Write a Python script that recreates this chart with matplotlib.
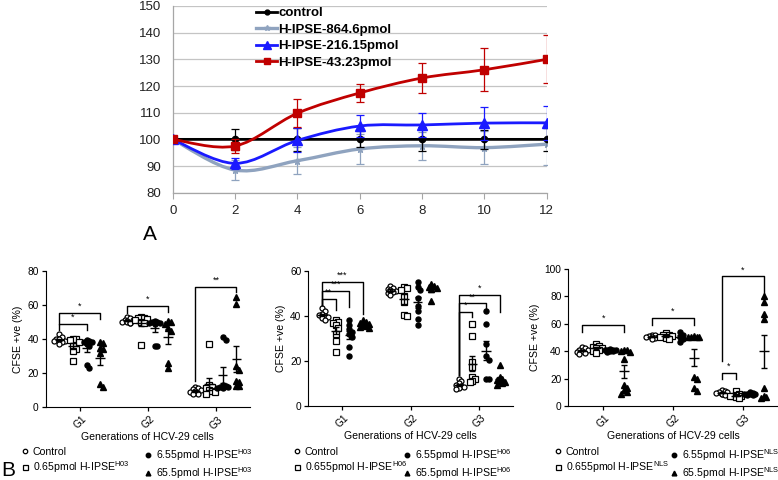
import numpy as np
import matplotlib
matplotlib.use("Agg")
import matplotlib.pyplot as plt
from matplotlib.path import Path
from matplotlib.patches import PathPatch
from matplotlib.lines import Line2D

plt.rcParams['font.family'] = ['Liberation Sans', 'DejaVu Sans']
plt.rcParams['mathtext.default'] = 'regular'

# ---- panel A: relative proliferation over time ----
days = [0, 2, 4, 6, 8, 10, 12]
ctrl = [100, 100, 100, 100, 100, 100, 100]
ctrl_err = [0, 4, 4.2, 3, 4.5, 3.5, 4.2]
ipse_864 = [100, 88.5, 92, 96.4, 97.6, 96.9, 98.2]
ipse_864_err = [0, 3.8, 5, 5.8, 5.2, 6.2, 7.7]
ipse_216 = [100, 91, 99.6, 105, 105.4, 106.1, 106.2]
ipse_216_err = [0, 2, 4.5, 4, 4.6, 6.2, 6.3]
ipse_43 = [100, 97.5, 109.8, 117.4, 123, 126.1, 130]
ipse_43_err = [0, 2.5, 5.2, 3.5, 5.5, 8, 9]

# ---- panel B: CFSE +ve (%) per generation (G1, G2, G3) ----
groups = ['G1', 'G2', 'G3']

h03_control = [[43, 41, 40, 40, 39, 39, 38, 37],
               [53, 52, 51, 51, 50.5, 50, 50, 49.5, 49.5],
               [12, 11, 10.5, 10, 9.5, 9, 8, 7.5]]
h03_low = [[40, 40, 39.5, 38, 36, 34, 33, 27],
           [53, 52.5, 52, 51.5, 51, 50, 49.5, 36.5],
           [13, 12, 11, 10, 9.5, 9, 8, 37]]
h03_mid = [[39.5, 39, 38.5, 38, 37, 36, 25, 23],
           [50.5, 50, 50, 49.5, 49.5, 49, 36, 36],
           [41, 39.5, 13, 12.5, 12, 12, 11.5, 11]]
h03_high = [[38.5, 37.5, 35, 34, 32, 12, 13.5],
            [50.5, 50, 49, 46.5, 44.5, 26, 23],
            [64.5, 60.5, 24, 22, 15.5, 15, 12.5, 12.5]]

h06_control = [[43.5, 42, 41, 40.5, 40, 39.5, 39, 38],
               [53.5, 52.5, 52, 51.5, 51, 50.5, 50, 49.5],
               [12, 11, 10, 9.5, 9, 8.5, 8, 7.5]]
h06_low = [[38, 37.5, 37, 36, 34.5, 32, 29, 24],
           [53, 52.5, 51.5, 49, 46, 40.5, 40],
           [36.5, 31, 19.5, 17.5, 13, 12, 11, 10.5]]
h06_mid = [[38, 36, 34, 33, 32, 30.5, 26, 22],
           [55, 53, 51.5, 48, 44.5, 42, 38.5, 36],
           [42, 36.5, 27.5, 22, 20.5, 12, 12]]
h06_high = [[38, 37.5, 37, 36.5, 36, 35.5, 35, 34.5],
            [54, 53.5, 53, 52.5, 52, 46.5],
            [18, 13, 12, 11.5, 11, 10.5, 10, 9.5]]

nls_control = [[43, 42, 41, 40.5, 40, 39.5, 39, 38],
               [52, 51.5, 51, 50.5, 50, 50, 49.5, 49],
               [12, 11, 10.5, 10, 9.5, 9, 8.5, 8]]
nls_low = [[45, 44, 43, 42.5, 42, 41, 40, 39],
           [53, 52, 51.5, 51, 50.5, 50, 49.5, 48.5],
           [11, 8.5, 8, 7.5, 7, 7, 6.5, 6]]
nls_mid = [[41.5, 41, 41, 40.5, 40.5, 40, 40, 39.5],
           [54, 52, 50.5, 49, 47],
           [10, 9.5, 9, 9, 8.5, 8.5, 8, 8]]
nls_high = [[41, 40.5, 40, 39.5, 34.5, 15, 13, 11.5, 10, 9],
            [51, 50.5, 50.5, 50, 50, 21, 19.5, 13, 11],
            [80, 75.5, 67, 63.5, 13, 7.5, 6.5, 6]]

# brackets: (group, treatment a, treatment b, bar y, left leg end, right leg end, label)
h03_sig = [(0, 0, 2, 49, 45.5, 45, '*'), (0, 0, 3, 55.3, 49, 51.5, '*'),
           (1, 0, 3, 59.6, 55.5, 56, '*'), (2, 0, 3, 70.5, 15.5, 67.5, '**')]
h06_sig = [(0, 0, 1, 47.4, 45, 42.5, '**'), (0, 0, 2, 51.3, 45, 44, '***'),
           (0, 0, 3, 55.1, 45, 41, '***'),
           (2, 0, 1, 41.8, 13.6, 39.6, '*'), (2, 0, 2, 45.6, 13.6, 43.3, '**'),
           (2, 0, 3, 49.3, 13.6, 41.8, '*')]
nls_sig = [(0, 0, 3, 59.2, 54, 54, '*'), (1, 0, 3, 64, 59, 59, '*'),
           (2, 0, 3, 94.4, 33, 82, '*'), (2, 0, 1, 24.3, 20, 20, '*')]


def smooth_path(x, y):
    # excel-like smoothed line: cubic bezier through the points
    p = np.column_stack([x, y]).astype(float)
    n = len(p)
    verts = [p[0]]
    codes = [Path.MOVETO]
    for i in range(n - 1):
        p0 = p[i - 1] if i > 0 else p[i]
        p3 = p[i + 2] if i + 2 < n else p[i + 1]
        verts += [p[i] + (p[i + 1] - p0) / 6, p[i + 1] - (p3 - p[i]) / 6, p[i + 1]]
        codes += [Path.CURVE4] * 3
    return Path(verts, codes)


def swarm(vals, ypx, xpx, dot=3.5, step=2.8):
    # spread overlapping points sideways, few columns only
    vals = np.asarray(vals, float)
    offs = np.zeros(len(vals))
    placed = []
    for i in np.argsort(vals)[::-1]:
        best, best_n = 0, None
        for c in [0, 1, -1, 2, -2]:
            hits = sum(1 for pv, pc in placed
                       if pc == c and abs(vals[i] - pv) * ypx < dot)
            if best_n is None or hits < best_n:
                best, best_n = c, hits
            if hits == 0:
                break
        placed.append((vals[i], best))
        offs[i] = best * step / xpx
    return offs


fig = plt.figure(figsize=(7.78, 4.8), dpi=100)

# ---------------- A ----------------
ax = fig.add_axes([0.222, 0.5985, 0.4807, 0.389])
series = [
    (ipse_864, ipse_864_err, '#8FA3BF', '*', 5, 2.4, 'H-IPSE-864.6pmol', 2),
    (ctrl, ctrl_err, 'black', 'o', 4.5, 2.0, 'control', 3),
    (ipse_216, ipse_216_err, '#1a1aff', '^', 6.5, 2.0, 'H-IPSE-216.15pmol', 4),
    (ipse_43, ipse_43_err, '#c00000', 's', 6, 2.0, 'H-IPSE-43.23pmol', 5),
]
handles = {}
for vals, err, col, mk, ms, lw, lab, z in series:
    ax.errorbar(days, vals, yerr=err, fmt='none', ecolor=col, elinewidth=0.9,
                capsize=3, capthick=0.9, zorder=z)
    ax.add_patch(PathPatch(smooth_path(days, vals), fill=False, edgecolor=col,
                           lw=lw, zorder=z + 0.1))
    ax.plot(days, vals, ls='none', marker=mk, ms=ms, color=col, zorder=z + 0.2)
    handles[lab] = Line2D([], [], color=col, lw=lw, marker=mk, ms=ms - 1)

order = ['control', 'H-IPSE-864.6pmol', 'H-IPSE-216.15pmol', 'H-IPSE-43.23pmol']
ax.legend([handles[k] for k in order], order, loc='upper left',
          bbox_to_anchor=(0.205, 1.03), frameon=False,
          prop={'weight': 'bold', 'size': 9.5}, handlelength=1.6,
          handletextpad=0.1, labelspacing=0.33, borderpad=0)

ax.set_xlim(0, 12)
ax.set_ylim(80, 150)
ax.set_xticks(range(0, 13, 2))
ax.set_yticks(range(80, 151, 10))
ax.yaxis.grid(True, color='#c4c4c4', lw=0.9)
ax.set_axisbelow(True)
for s in ['top', 'right']:
    ax.spines[s].set_visible(False)
for s in ['left', 'bottom']:
    ax.spines[s].set_color('#a6a6a6')
    ax.spines[s].set_linewidth(0.9)
ax.tick_params(axis='y', length=0, pad=8, labelsize=9.5, labelcolor='#222222')
ax.tick_params(axis='x', length=4, color='#a6a6a6', pad=5, labelsize=9.5,
               labelcolor='#222222')

fig.text(0.184, 0.5, 'A', fontsize=15)
fig.text(0.002, 0.008, 'B', fontsize=15)

# ---------------- B ----------------
offsets = [-0.3, -0.1, 0.1, 0.3]
styles = [dict(marker='o', mfc='white', mec='black', ms=3.6, mew=0.9),
          dict(marker='s', mfc='white', mec='black', ms=4.3, mew=0.9),
          dict(marker='o', mfc='black', mec='black', ms=3.6),
          dict(marker='^', mfc='black', mec='black', ms=4.0)]
leg_styles = [dict(marker='o', mfc='white', mec='black', ms=3.2, mew=0.9),
              dict(marker='s', mfc='white', mec='black', ms=3.6, mew=0.9),
              dict(marker='o', mfc='black', mec='black', ms=3.2),
              dict(marker='^', mfc='black', mec='black', ms=3.4)]


def draw_panel(rect, treatments, ymax, sig):
    bx = fig.add_axes(rect)
    xpx = rect[2] * 778 / 3.0
    ypx = rect[3] * 480 / ymax
    for t, data in enumerate(treatments):
        for g, vals in enumerate(data):
            xc = g + 1 + offsets[t]
            xs = xc + swarm(vals, ypx, xpx)
            bx.plot(xs, vals, ls='none', zorder=2, **styles[t])
            m = np.mean(vals)
            se = np.std(vals, ddof=1) / np.sqrt(len(vals))
            bx.hlines(m, xc - 0.07, xc + 0.07, color='black', lw=1, zorder=3)
            bx.errorbar(xc, m, yerr=se, fmt='none', ecolor='black', elinewidth=1,
                        capsize=2.5, capthick=1, zorder=3)
    for g, a, b, y, l1, l2, lab in sig:
        x1 = g + 1 + offsets[a]
        x2 = g + 1 + offsets[b]
        bx.plot([x1, x1, x2, x2], [l1, y, y, l2], color='black', lw=1, zorder=4)
        bx.annotate(lab, ((x1 + x2) / 2, y), xytext=(0, 1.5),
                    textcoords='offset points', ha='center', va='bottom',
                    fontsize=6.5)
    bx.set_xlim(0.5, 3.5)
    bx.set_ylim(0, ymax)
    bx.set_xticks([1, 2, 3])
    bx.set_xticklabels(groups, rotation=45)
    bx.set_yticks(range(0, ymax + 1, 20))
    for s in ['top', 'right']:
        bx.spines[s].set_visible(False)
    bx.tick_params(length=3, width=0.9, labelsize=7.3, pad=2)
    bx.set_ylabel('CFSE +ve (%)', fontsize=7.6, labelpad=3)
    bx.set_xlabel('Generations of HCV-29 cells', fontsize=7.6, labelpad=1)
    return bx


def add_legend_col(hs, labels, xpx):
    fig.legend(hs, labels, loc='upper left',
               bbox_to_anchor=((xpx - 4) / 778, 1 - 447 / 480), frameon=False,
               fontsize=7.6, handlelength=0.8, handletextpad=0.3,
               labelspacing=0.2, borderpad=0, borderaxespad=0)


panels = [
    ([0.0587, 0.1515, 0.2626, 0.2846], [h03_control, h03_low, h03_mid, h03_high],
     80, h03_sig, 'H03', '0.65pmol', 25, 148),
    ([0.3963, 0.1542, 0.2635, 0.2813], [h06_control, h06_low, h06_mid, h06_high],
     60, h06_sig, 'H06', '0.655pmol', 297, 407),
    ([0.7305, 0.154, 0.2690, 0.286], [nls_control, nls_low, nls_mid, nls_high],
     100, nls_sig, 'NLS', '0.655pmol', 558, 674),
]
for rect, tr, ymax, sig, tag, low, lx1, lx2 in panels:
    draw_panel(rect, tr, ymax, sig)
    hs = [Line2D([], [], ls='none', **st) for st in leg_styles]
    add_legend_col(hs[:2], ['Control', low + ' H-IPSE$^{%s}$' % tag], lx1)
    add_legend_col(hs[2:], ['6.55pmol H-IPSE$^{%s}$' % tag,
                            '65.5pmol H-IPSE$^{%s}$' % tag], lx2)

fig.savefig('out.png', dpi=100)
